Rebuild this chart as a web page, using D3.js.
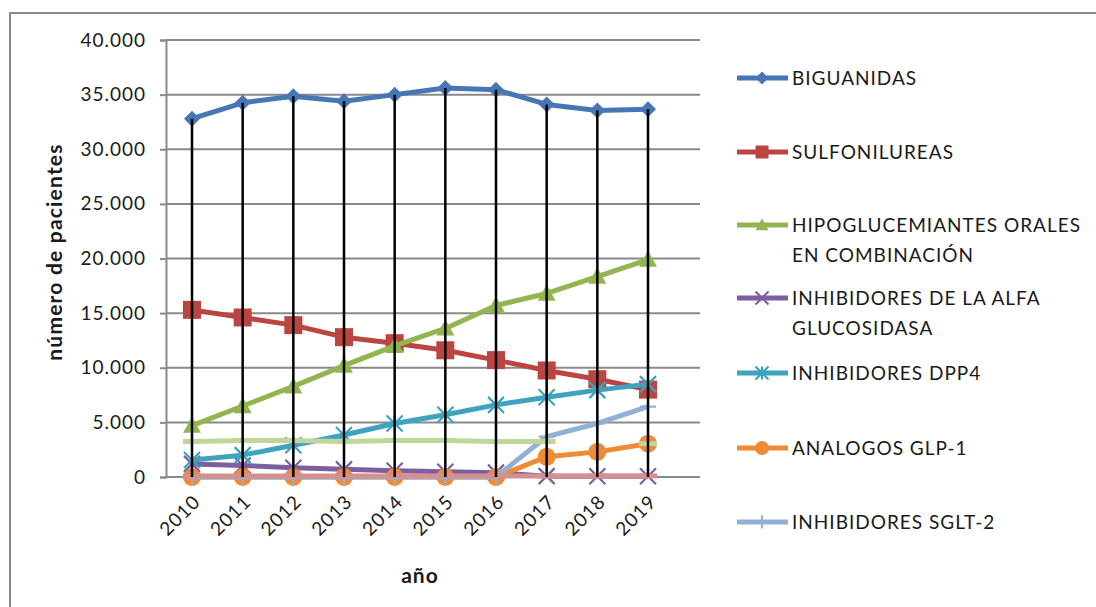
<!DOCTYPE html>
<html>
<head>
<meta charset="utf-8">
<script src="https://cdn.jsdelivr.net/npm/d3@7"></script>
<style>
  html, body { margin: 0; padding: 0; background: #fff; }
  svg text { font-family: Lato, "Open Sans", sans-serif; fill: #1a1a1a; letter-spacing: 1px; }
</style>
</head>
<body>
<svg id="chart" width="1096" height="607"></svg>
<script>
// Pacientes por grupo terapéutico, 2010-2019
const years = [2010, 2011, 2012, 2013, 2014, 2015, 2016, 2017, 2018, 2019];
const biguanidas    = [32800, 34250, 34850, 34400, 35000, 35600, 35450, 34100, 33550, 33650];
const sulfonilureas = [15300, 14600, 13900, 12800, 12250, 11600, 10700, 9750, 8950, 8000];
const combinacion   = [4700, 6500, 8300, 10200, 12000, 13600, 15700, 16800, 18350, 19900];
const alfaGlucosid  = [1200, 1050, 850, 700, 580, 480, 400, 80, 60, 60];
const dpp4          = [1550, 2000, 2900, 3850, 4900, 5700, 6600, 7300, 7950, 8500];
const glp1          = [0, 0, 0, 0, 0, 0, 0, 1850, 2300, 3050];
const sglt2         = [0, 0, 0, 0, 0, 0, 0, 3700, 4900, 6450];
const otrosA        = [3250, 3350, 3350, 3250, 3350, 3350, 3250, 3250, null, 3050];
const otrosB        = [100, 100, 100, 100, 100, 100, 100, 100, 100, 100];
const yTicks = [0, 5000, 10000, 15000, 20000, 25000, 30000, 35000, 40000];

const series = [
  { name: ["BIGUANIDAS"], values: biguanidas, color: "#4677b4", marker: "diamond", legend: true },
  { name: ["SULFONILUREAS"], values: sulfonilureas, color: "#bb4541", marker: "square", legend: true },
  { name: ["HIPOGLUCEMIANTES ORALES", "EN COMBINACIÓN"], values: combinacion, color: "#93b54f", marker: "triangle", legend: true },
  { name: ["INHIBIDORES DE LA ALFA", "GLUCOSIDASA"], values: alfaGlucosid, color: "#7c5fa0", marker: "x", legend: true },
  { name: ["INHIBIDORES DPP4"], values: dpp4, color: "#3fa3bf", marker: "star", legend: true },
  { name: ["ANALOGOS GLP-1"], values: glp1, color: "#ef8a35", marker: "circle", legend: true },
  { name: ["INHIBIDORES SGLT-2"], values: sglt2, color: "#92afd6", marker: "plus", legend: true },
  { name: ["OTROS"], values: otrosA, color: "#c0d69a", marker: "dash", legend: false },
  { name: ["OTROS"], values: otrosB, color: "#d4908f", marker: "dash", legend: false }
];

const svg = d3.select("#chart");
const plot = { left: 166, right: 700, top: 40, bottom: 477 };

const x = d3.scalePoint().domain(years).range([192, 648]);
const y = d3.scaleLinear().domain([0, 40000]).range([plot.bottom, plot.top]);
const locale = d3.formatLocale({ decimal: ",", thousands: ".", grouping: [3], currency: ["", "€"] });
const fmt = locale.format(",d");

// outer frame
svg.append("path")
  .attr("d", "M10,620 V13 H1110")
  .attr("fill", "none").attr("stroke", "#8a8a8a").attr("stroke-width", 2);

// horizontal gridlines
svg.append("g").selectAll("line").data(yTicks).join("line")
  .attr("x1", plot.left).attr("x2", plot.right)
  .attr("y1", d => y(d)).attr("y2", d => y(d))
  .attr("stroke", "#8a8a8a").attr("stroke-width", 2);

// y axis
const yAxis = svg.append("g").attr("transform", `translate(${plot.left},0)`)
  .call(d3.axisLeft(y).tickValues(yTicks).tickFormat(fmt).tickSize(6).tickPadding(14));
yAxis.select(".domain").attr("stroke", "#8a8a8a").attr("stroke-width", 2);
yAxis.selectAll(".tick line").attr("stroke", "#8a8a8a").attr("stroke-width", 2);
yAxis.selectAll(".tick text").attr("font-size", 19).attr("fill", "#1a1a1a")
  .attr("font-family", "Lato, sans-serif");

// x axis
const xAxis = svg.append("g").attr("transform", `translate(0,${plot.bottom})`)
  .call(d3.axisBottom(x).tickSize(0).tickPadding(0));
xAxis.select(".domain").remove();
xAxis.append("line").attr("x1", plot.left).attr("x2", plot.right)
  .attr("stroke", "#8a8a8a").attr("stroke-width", 2);
xAxis.selectAll(".tick text")
  .attr("font-size", 19).attr("fill", "#1a1a1a").attr("font-family", "Lato, sans-serif")
  .attr("text-anchor", "end").attr("dy", 0)
  .attr("transform", "translate(9,26) rotate(-45)");

// axis titles
svg.append("text").attr("transform", "translate(62,252) rotate(-90)")
  .attr("text-anchor", "middle").attr("font-size", 21).attr("font-weight", "bold")
  .style("letter-spacing", "1.2px")
  .text("número de pacientes");
svg.append("text").attr("x", 420).attr("y", 583)
  .attr("text-anchor", "middle").attr("font-size", 21).attr("font-weight", "bold")
  .text("año");

// marker shapes
function markerPath(type, s) {
  switch (type) {
    case "diamond": return `M0,${-s}L${s},0L0,${s}L${-s},0Z`;
    case "square": return `M${-s},${-s}H${s}V${s}H${-s}Z`;
    case "triangle": return `M0,${-s}L${s},${s * 0.8}H${-s}Z`;
    case "x": return `M${-s},${-s}L${s},${s}M${s},${-s}L${-s},${s}`;
    case "star": return `M${-s},${-s}L${s},${s}M${s},${-s}L${-s},${s}M0,${-s}V${s}`;
    case "plus": return `M0,${-s}V${s}M${-s},0H${s}`;
    case "dash": return `M${-s},0H${s}`;
    default: return "";
  }
}
function drawMarker(g, type, color, s) {
  if (type === "circle") {
    g.append("circle").attr("r", s).attr("fill", color);
  } else if (["x", "star", "plus"].includes(type)) {
    g.append("path").attr("d", markerPath(type, s)).attr("fill", "none")
      .attr("stroke", color).attr("stroke-width", 2.2);
  } else if (type === "dash") {
    g.append("path").attr("d", markerPath(type, s)).attr("fill", "none")
      .attr("stroke", color).attr("stroke-width", 5);
  } else {
    g.append("path").attr("d", markerPath(type, s)).attr("fill", color);
  }
}
const markerSize = { diamond: 8, square: 9, triangle: 9, x: 8, star: 8, circle: 9, plus: 8, dash: 9 };

const line = d3.line()
  .defined(d => d.v !== null)
  .x(d => x(d.year)).y(d => y(d.v));

const seriesG = svg.append("g");
series.forEach(s => {
  const pts = years.map((yr, i) => ({ year: yr, v: s.values[i] }));
  const g = seriesG.append("g");
  g.append("path").datum(pts).attr("d", line)
    .attr("fill", "none").attr("stroke", s.color).attr("stroke-width", 5)
    .attr("stroke-linejoin", "round");
  pts.filter(d => d.v !== null).forEach(d => {
    const m = g.append("g").attr("transform", `translate(${x(d.year)},${y(d.v)})`);
    drawMarker(m, s.marker, s.color, markerSize[s.marker]);
  });
});

// drop lines from the top series down to the category axis
svg.append("g").selectAll("line").data(years).join("line")
  .attr("x1", d => x(d)).attr("x2", d => x(d))
  .attr("y1", (d, i) => y(biguanidas[i])).attr("y2", y(0))
  .attr("stroke", "#000").attr("stroke-width", 2.5);

// legend
const legendRows = [78, 152, 225, 298, 373, 448, 522];
const legend = svg.append("g");
series.filter(s => s.legend).forEach((s, i) => {
  const g = legend.append("g").attr("transform", `translate(0,${legendRows[i]})`);
  g.append("line").attr("x1", 737).attr("x2", 788)
    .attr("stroke", s.color).attr("stroke-width", 5);
  const m = g.append("g").attr("transform", "translate(762,0)");
  drawMarker(m, s.marker, s.color, s.marker === "circle" ? 7 : 6.5);
  s.name.forEach((t, j) => {
    g.append("text").attr("x", 792).attr("y", j * 30).attr("dy", "0.35em")
      .attr("font-size", 19).text(t);
  });
});
</script>
</body>
</html>
